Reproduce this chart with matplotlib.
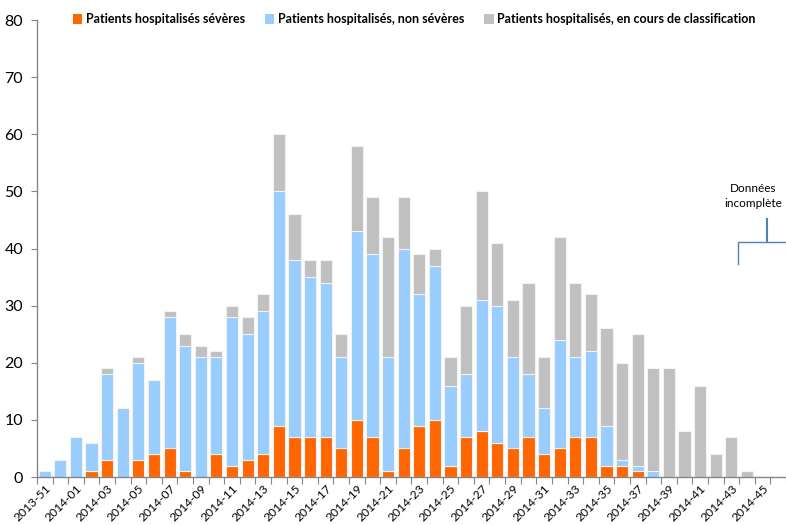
import matplotlib
matplotlib.use("Agg")
import matplotlib.pyplot as plt
import numpy as np
from matplotlib.patches import Patch

# ── Weekly hospitalisations, 2013-51 → 2014-46 ───────────────────────────────
weeks = ["2013-51", "2013-52"] + [f"2014-{w:02d}" for w in range(1, 47)]

severe = [0, 0, 0, 1, 3, 0, 3, 4, 5, 1, 0, 4, 2, 3, 4, 9,
          7, 7, 7, 5, 10, 7, 1, 5, 9, 10, 2, 7, 8, 6, 5, 7,
          4, 5, 7, 7, 2, 2, 1, 0, 0, 0, 0, 0, 0, 0, 0, 0]
non_severe = [1, 3, 7, 5, 15, 12, 17, 13, 23, 22, 21, 17, 26, 22, 25, 41,
              31, 28, 27, 16, 33, 32, 20, 35, 23, 27, 14, 11, 23, 24, 16, 11,
              8, 19, 14, 15, 7, 1, 1, 1, 0, 0, 0, 0, 0, 0, 0, 0]
pending = [0, 0, 0, 0, 1, 0, 1, 0, 1, 2, 2, 1, 2, 3, 3, 10,
           8, 3, 4, 4, 15, 10, 21, 9, 7, 3, 5, 12, 19, 11, 10, 16,
           9, 18, 13, 10, 17, 17, 23, 18, 19, 8, 16, 4, 7, 1, 0, 0]

labels = ["Patients hospitalisés sévères",
          "Patients hospitalisés, non sévères",
          "Patients hospitalisés, en cours de classification"]
colors = ["#FF6600", "#99CCFF", "#C0C0C0"]

plt.rcParams["font.family"] = ["Lato", "DejaVu Sans"]

fig = plt.figure(figsize=(7.86, 5.25), dpi=100)
ax = fig.add_axes([0.047, 0.0914, 0.953, 0.8705])

x = np.arange(len(weeks))
sev = np.array(severe)
non = np.array(non_severe)
pen = np.array(pending)

bar_kw = dict(width=0.78, edgecolor="#F2F2F2", linewidth=0.8, zorder=2)
ax.bar(x, sev, color=colors[0], **bar_kw)
ax.bar(x, non, bottom=sev, color=colors[1], **bar_kw)
ax.bar(x, pen, bottom=sev + non, color=colors[2], **bar_kw)

# ── Axes ─────────────────────────────────────────────────────────────────────
ax.set_xlim(-0.5, len(weeks) - 0.5)
ax.set_ylim(0, 80)
ax.set_yticks(range(0, 81, 10))
ax.tick_params(axis="y", labelsize=11.5, length=4, color="#868686",
               direction="out", pad=6)

# ticks sit between categories, labels under every other week
ax.set_xticks(np.arange(len(weeks) + 1) - 0.5)
ax.set_xticklabels([])
ax.tick_params(axis="x", length=5, color="#868686", direction="out")
ax.set_xticks(x[::2], minor=True)
ax.set_xticklabels(weeks[::2], minor=True, rotation=45, ha="right",
                   rotation_mode="anchor", fontsize=8.7)
ax.tick_params(axis="x", which="minor", length=0, pad=4)

for side in ["top", "right"]:
    ax.spines[side].set_visible(False)
for side in ["left", "bottom"]:
    ax.spines[side].set_color("#868686")
    ax.spines[side].set_linewidth(1.0)

# ── Legend across the top ────────────────────────────────────────────────────
handles = [Patch(facecolor=c, edgecolor="none") for c in colors]
leg = fig.legend(handles, labels, ncol=3, loc="center",
                 bbox_to_anchor=(0.527, 0.963), frameon=False,
                 prop={"weight": "bold", "size": 9},
                 handlelength=0.75, handleheight=0.75, handletextpad=0.3,
                 columnspacing=1.6)

# ── "Données incomplète" bracket ─────────────────────────────────────────────
br_color = "#4F81BD"
ax.plot([44.42, 44.42, 47.5], [37.3, 41.1, 41.1], color=br_color,
        linewidth=1.0, clip_on=False, zorder=3)
ax.plot([46.28, 46.28], [41.1, 45.2], color=br_color, linewidth=1.5,
        clip_on=False, zorder=3)
ax.text(45.4, 49.2, "Données\nincomplète", ha="center", va="center",
        fontsize=8.5, linespacing=1.4)

fig.savefig("out.png", dpi=100)
